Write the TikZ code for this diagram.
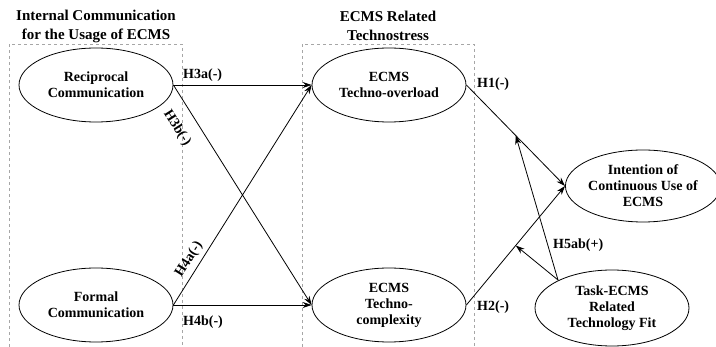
\documentclass[tikz,border=0pt]{standalone}
\usepackage{fontspec}
\setmainfont{Liberation Serif}
\usetikzlibrary{arrows.meta,shapes.geometric}
\begin{document}
\begin{tikzpicture}[x=1pt,y=-1pt,
  lat/.style={ellipse,draw,line width=0.8pt,minimum width=154pt,minimum height=74pt,inner sep=0pt,align=center,font=\fontsize{14}{16}\selectfont\bfseries},
  grp/.style={draw=gray!70,dashed,line width=0.7pt},
  ttl/.style={align=center,font=\fontsize{15}{19}\selectfont\bfseries},
  lbl/.style={font=\fontsize{14}{16}\selectfont\bfseries,inner sep=1pt},
  arr/.style={-{Stealth[length=9pt,width=6pt]},line width=0.8pt}]
\useasboundingbox (0,0) rectangle (716,347);
\draw[grp] (9,347) -- (9,44) -- (182,44) -- (182,347);
\draw[grp] (302,347) -- (302,44) -- (474,44) -- (474,347);
\node[ttl] (t1) at (96,26) {Internal Communication\\for the Usage of ECMS};
\node[ttl] (t2) at (388,26) {ECMS Related\\Technostress};
\node[lat] (rc) at (96,85) {Reciprocal\\Communication};
\node[lat] (fc) at (96,305) {Formal\\Communication};
\node[lat] (to) at (389,85) {ECMS\\Techno-overload};
\node[lat] (tc) at (389,305) {ECMS\\Techno-\\complexity};
\node[lat,minimum width=144pt,minimum height=72pt] (ic) at (643,186) {Intention of\\Continuous Use of\\ECMS};
\node[lat,minimum height=76pt] (tf) at (612,308) {Task-ECMS\\Related\\Technology Fit};
\draw[arr] (rc.east) -- (to.west);
\draw[arr] (rc.east) -- (tc.west);
\draw[arr] (fc.east) -- (to.west);
\draw[arr] (fc.east) -- (tc.west);
\draw[arr] (to.east) -- (ic.west) coordinate[pos=0.5] (m1);
\draw[arr] (tc.east) -- (ic.west) coordinate[pos=0.5] (m2);
\coordinate (tft) at (558,280);
\draw[arr] (tft) -- (m1);
\draw[arr] (tft) -- (m2);
\node[lbl,anchor=west] (l3a) at (182,75) {H3a(-)};
\node[lbl,rotate=-57.6] (l3b) at (177,128) {H3b(-)};
\node[lbl,rotate=57.6] (l4a) at (189,259) {H4a(-)};
\node[lbl,anchor=west] (l4b) at (182,322) {H4b(-)};
\node[lbl,anchor=west] (l1) at (476,84) {H1(-)};
\node[lbl,anchor=west] (l2) at (476,307) {H2(-)};
\node[lbl,anchor=west] (l5) at (552,245) {H5ab(+)};
\end{tikzpicture}
\end{document}
